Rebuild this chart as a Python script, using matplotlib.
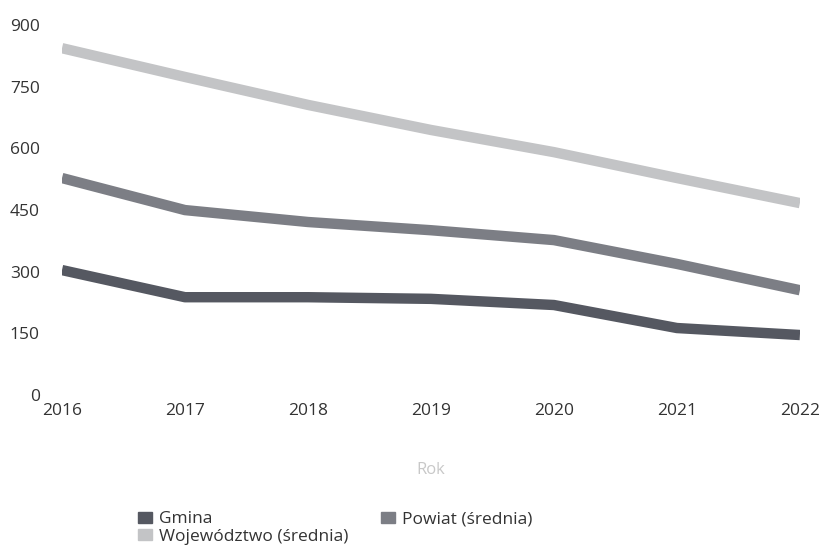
# -*- coding: utf-8 -*-
import matplotlib
matplotlib.use("Agg")
import matplotlib.pyplot as plt
from matplotlib.patches import Patch

# data
years = [2016, 2017, 2018, 2019, 2020, 2021, 2022]
gmina = [304, 238, 238, 234, 219, 163, 146]
powiat = [528, 450, 421, 401, 377, 319, 255]
wojewodztwo = [844, 774, 706, 645, 591, 528, 467]
yticks = [0, 150, 300, 450, 600, 750, 900]

series = [
    ("Gmina", gmina, "#555861"),
    ("Powiat (średnia)", powiat, "#7c7e85"),
    ("Województwo (średnia)", wojewodztwo, "#c3c4c6"),
]

plt.rcParams['font.family'] = ['Open Sans', 'DejaVu Sans']

fig = plt.figure(figsize=(8.31, 5.52), dpi=100)
ax = fig.add_axes([0.0746, 0.2844, 0.888, 0.670])

for name, vals, col in series:
    ax.plot(years, vals, color=col, linewidth=7.5, solid_capstyle="butt",
            solid_joinstyle="round")

ax.set_xlim(2016, 2022)
ax.set_ylim(0, 900)
ax.set_yticks(yticks)
ax.set_xticks(years)
ax.tick_params(length=0, labelsize=12.5, labelcolor="#333333")
ax.tick_params(axis="y", pad=16)
ax.tick_params(axis="x", pad=6)
for s in ax.spines.values():
    s.set_visible(False)

ax.set_xlabel("Rok", fontsize=12, color="#c8c8c8", labelpad=31)

# legend: row 1 Gmina / Powiat, row 2 Wojewodztwo
order = [0, 2, 1]
handles = [Patch(facecolor=series[i][2], edgecolor=series[i][2]) for i in order]
labels = [series[i][0] for i in order]
fig.legend(handles, labels, loc="upper left", bbox_to_anchor=(0.166, 0.074),
           ncol=2, frameon=False, fontsize=12.5, handlelength=0.8,
           handleheight=0.6, handletextpad=0.4, columnspacing=1.9,
           labelspacing=0.1, borderaxespad=0, borderpad=0,
           labelcolor="#333333")

fig.savefig("out.png", dpi=100)
